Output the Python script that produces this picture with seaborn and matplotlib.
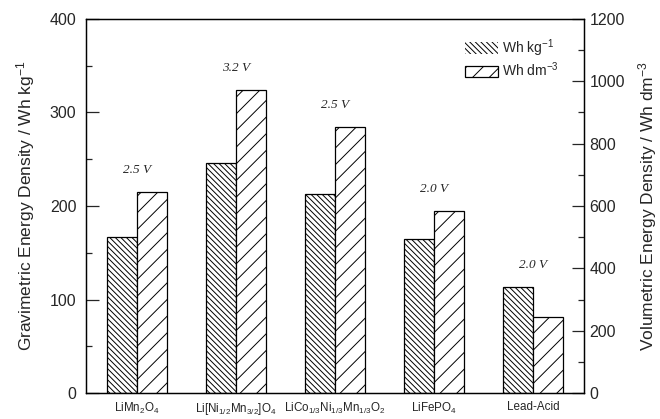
import pandas as pd
import matplotlib
matplotlib.use('Agg')
import matplotlib.pyplot as plt
import seaborn as sns
from matplotlib.patches import Patch
from matplotlib.ticker import MultipleLocator

# data
materials = [r'LiMn$_2$O$_4$', r'Li[Ni$_{1/2}$Mn$_{3/2}$]O$_4$',
             r'LiCo$_{1/3}$Ni$_{1/3}$Mn$_{1/3}$O$_2$', r'LiFePO$_4$', 'Lead-Acid']
gravimetric = [167, 246, 213, 165, 113]   # Wh kg-1
volumetric = [645, 972, 853, 584, 244]    # Wh dm-3
voltages = ['2.5 V', '3.2 V', '2.5 V', '2.0 V', '2.0 V']
units = ['kg', 'dm']


def main():
    sns.set_style(style='ticks')
    plt.rcParams['font.family'] = ['Liberation Sans', 'DejaVu Sans']
    plt.rcParams['mathtext.default'] = 'regular'
    plt.rcParams['hatch.linewidth'] = 0.7
    plt.rcParams['axes.edgecolor'] = 'black'

    df = pd.DataFrame({
        'material': materials * 2,
        'unit': ['kg'] * len(materials) + ['dm'] * len(materials),
        'value': gravimetric + volumetric,
    })

    fig, ax = plt.subplots(figsize=(6.6, 4.19), dpi=100)
    fig.subplots_adjust(left=86 / 660, right=584 / 660,
                        bottom=1 - 393 / 419, top=1 - 19 / 419)
    ax2 = ax.twinx()

    common = dict(x='material', y='value', hue='unit', hue_order=units,
                  order=materials, dodge=True, width=0.606, legend=False,
                  palette=['white', 'white'], edgecolor='black',
                  linewidth=0.9, saturation=1)
    sns.barplot(data=df[df.unit == 'kg'], ax=ax, **common)
    sns.barplot(data=df[df.unit == 'dm'], ax=ax2, **common)
    for p in ax.patches:
        p.set_hatch('\\\\\\\\\\\\')
    for p in ax2.patches:
        p.set_hatch('//')

    ax.set_xlim(-0.515, 4.515)
    ax.set_ylim(0, 400)
    ax2.set_ylim(0, 1200)

    # voltage labels above each group
    for i, v in enumerate(voltages):
        top = max(gravimetric[i], volumetric[i] / 3)
        ax.annotate(v, (i, top), xytext=(0, 16), textcoords='offset points',
                    ha='center', va='center', fontsize=9.5, style='italic',
                    family='Liberation Serif')

    ax.yaxis.set_major_locator(MultipleLocator(100))
    ax.yaxis.set_minor_locator(MultipleLocator(50))
    ax2.yaxis.set_major_locator(MultipleLocator(200))
    ax2.yaxis.set_minor_locator(MultipleLocator(100))
    ax.tick_params(axis='y', which='major', direction='in', length=9,
                   width=0.9, labelsize=11.5, pad=7)
    ax.tick_params(axis='y', which='minor', direction='in', length=4.5,
                   width=0.9)
    ax2.tick_params(axis='y', which='major', direction='in', length=9,
                    width=0.9, labelsize=11.5, pad=4)
    ax2.tick_params(axis='y', which='minor', direction='in', length=4.5,
                    width=0.9)
    ax.tick_params(axis='x', length=0, labelsize=8.4, pad=6)

    ax.set_xlabel('')
    ax2.set_xlabel('')
    ax.set_ylabel(r'Gravimetric Energy Density / Wh kg$^{-1}$', fontsize=12.5)
    ax2.set_ylabel(r'Volumetric Energy Density / Wh dm$^{-3}$', fontsize=12.5)
    ax.yaxis.set_label_coords(-0.098, 0.5)
    ax2.yaxis.set_label_coords(1.104, 0.5)

    for a in (ax, ax2):
        for s in a.spines.values():
            s.set_linewidth(0.9)
            s.set_color('black')

    handles = [Patch(facecolor='white', edgecolor='black', hatch='\\\\\\\\\\\\',
                     linewidth=0),
               Patch(facecolor='white', edgecolor='black', hatch='//',
                     linewidth=0.9)]
    ax2.legend(handles, [r'Wh kg$^{-1}$', r'Wh dm$^{-3}$'], loc='upper right',
               bbox_to_anchor=(0.975, 0.985), frameon=False, fontsize=10,
               handlelength=2.4, handleheight=0.9, handletextpad=0.3,
               labelspacing=0.15)

    fig.savefig('out.png', dpi=100)
    plt.close(fig)


if __name__ == '__main__':
    main()
